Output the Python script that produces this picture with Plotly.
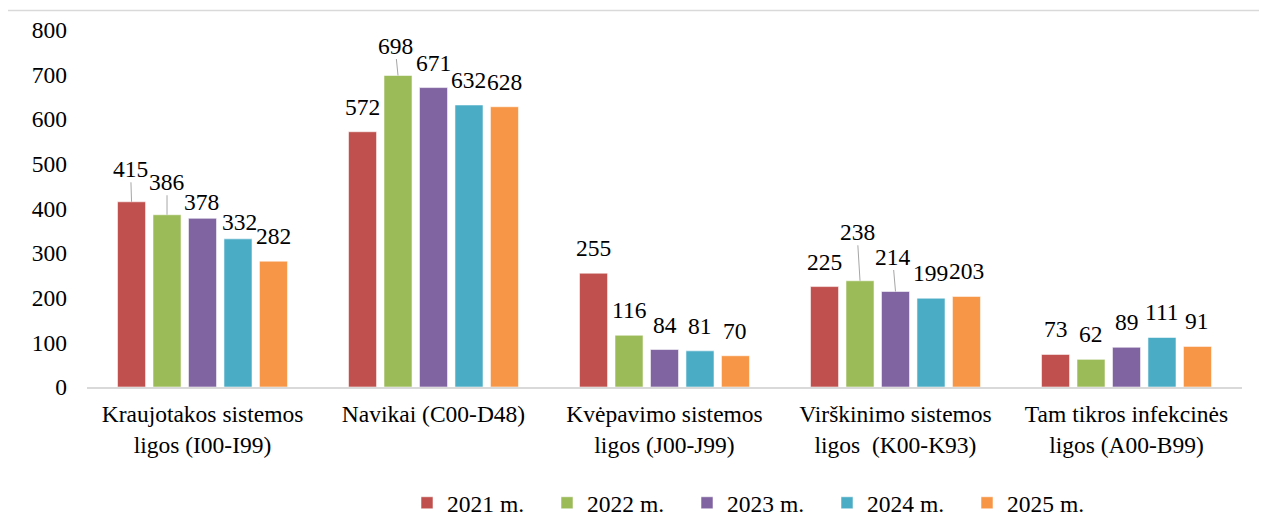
import plotly.graph_objects as go

categories = [
    "Kraujotakos sistemos<br>ligos (I00-I99)",
    "Navikai (C00-D48)",
    "Kvėpavimo sistemos<br>ligos (J00-J99)",
    "Virškinimo sistemos<br>ligos \u00a0(K00-K93)",
    "Tam tikros infekcinės<br>ligos (A00-B99)",
]
series_names = ["2021 m.", "2022 m.", "2023 m.", "2024 m.", "2025 m."]
v2021 = [415, 572, 255, 225, 73]
v2022 = [386, 698, 116, 238, 62]
v2023 = [378, 671, 84, 214, 89]
v2024 = [332, 632, 81, 199, 111]
v2025 = [282, 628, 70, 203, 91]
values = [v2021, v2022, v2023, v2024, v2025]
colors = ["#C0504D", "#9BBB59", "#8064A2", "#4BACC6", "#F79646"]

FONT = "Liberation Serif"
FS = 23.5
BARGAP = 0.232
GROUPGAP = 0.21
SLOT = (1 - BARGAP) / len(series_names)

# label placement nudges (pixels): (dx, dy, leader line)
DEFAULT_NUDGE = (0, -25, False)
NUDGES = {
    (0, 0): (-1, -33, True),
    (1, 0): (0, -33, True),
    (2, 0): (-1, -16, False),
    (3, 0): (2, -17, False),
    (1, 1): (-3, -30, True),
    (1, 3): (-3, -49, True),
    (2, 3): (-3, -35, True),
}

fig = go.Figure()
for name, vals, col in zip(series_names, values, colors):
    fig.add_trace(go.Bar(
        name=name, x=categories, y=vals,
        marker=dict(color=col, line=dict(color="rgba(255,255,255,0.55)", width=1)),
    ))

annotations = []
for s, vals in enumerate(values):
    for c, v in enumerate(vals):
        dx, dy, leader = NUDGES.get((s, c), DEFAULT_NUDGE)
        annotations.append(dict(
            x=c + (s - (len(series_names) - 1) / 2) * SLOT, y=v,
            xref="x", yref="y", text=str(v),
            showarrow=True, arrowhead=0, arrowwidth=1, standoff=0,
            arrowcolor="#A6A6A6" if leader else "rgba(0,0,0,0)",
            ax=dx, ay=dy, axref="pixel", ayref="pixel",
            font=dict(family=FONT, size=FS, color="#000000"),
            borderpad=0,
        ))

# page has an 8px body margin: figure is offset by (8, 8)
OFF = 8
W, H = 1267 - OFF, 524 - OFF
L, R, T, B = 87 - OFF, 25, 30 - OFF, 137
pw, ph = W - L - R, H - T - B
def px(xp):
    return (xp - OFF - L) / pw
def py(yp):
    return (H - B - (yp - OFF)) / ph

fig.add_shape(type="rect", xref="paper", yref="paper",
              x0=px(5.5), x1=px(1260), y0=py(560), y1=py(10.5),
              line=dict(color="#D9D9D9", width=1.5), fillcolor="rgba(0,0,0,0)", layer="below")

fig.update_layout(
    width=W, height=H,
    margin=dict(l=L, r=R, t=T, b=B, autoexpand=False),
    paper_bgcolor="white", plot_bgcolor="white",
    barmode="group", bargap=BARGAP, bargroupgap=GROUPGAP,
    font=dict(family=FONT, size=FS, color="#000000"),
    annotations=annotations,
    showlegend=True,
    legend=dict(orientation="h", x=px(407), y=py(503), xanchor="left", yanchor="middle",
                font=dict(family=FONT, size=FS, color="#000000"),
                entrywidth=95, traceorder="normal", bgcolor="rgba(0,0,0,0)",
                itemwidth=30),
    xaxis=dict(showline=True, linecolor="#D9D9D9", linewidth=2, ticks="",
               showgrid=False, zeroline=False, tickfont=dict(family=FONT, size=FS),
               ticklabelstandoff=5),
    yaxis=dict(range=[0, 800], dtick=100, showgrid=False, zeroline=False, showline=False,
               ticks="", tickfont=dict(family=FONT, size=FS), ticklabelstandoff=19),
)

fig.write_html("out.html")
